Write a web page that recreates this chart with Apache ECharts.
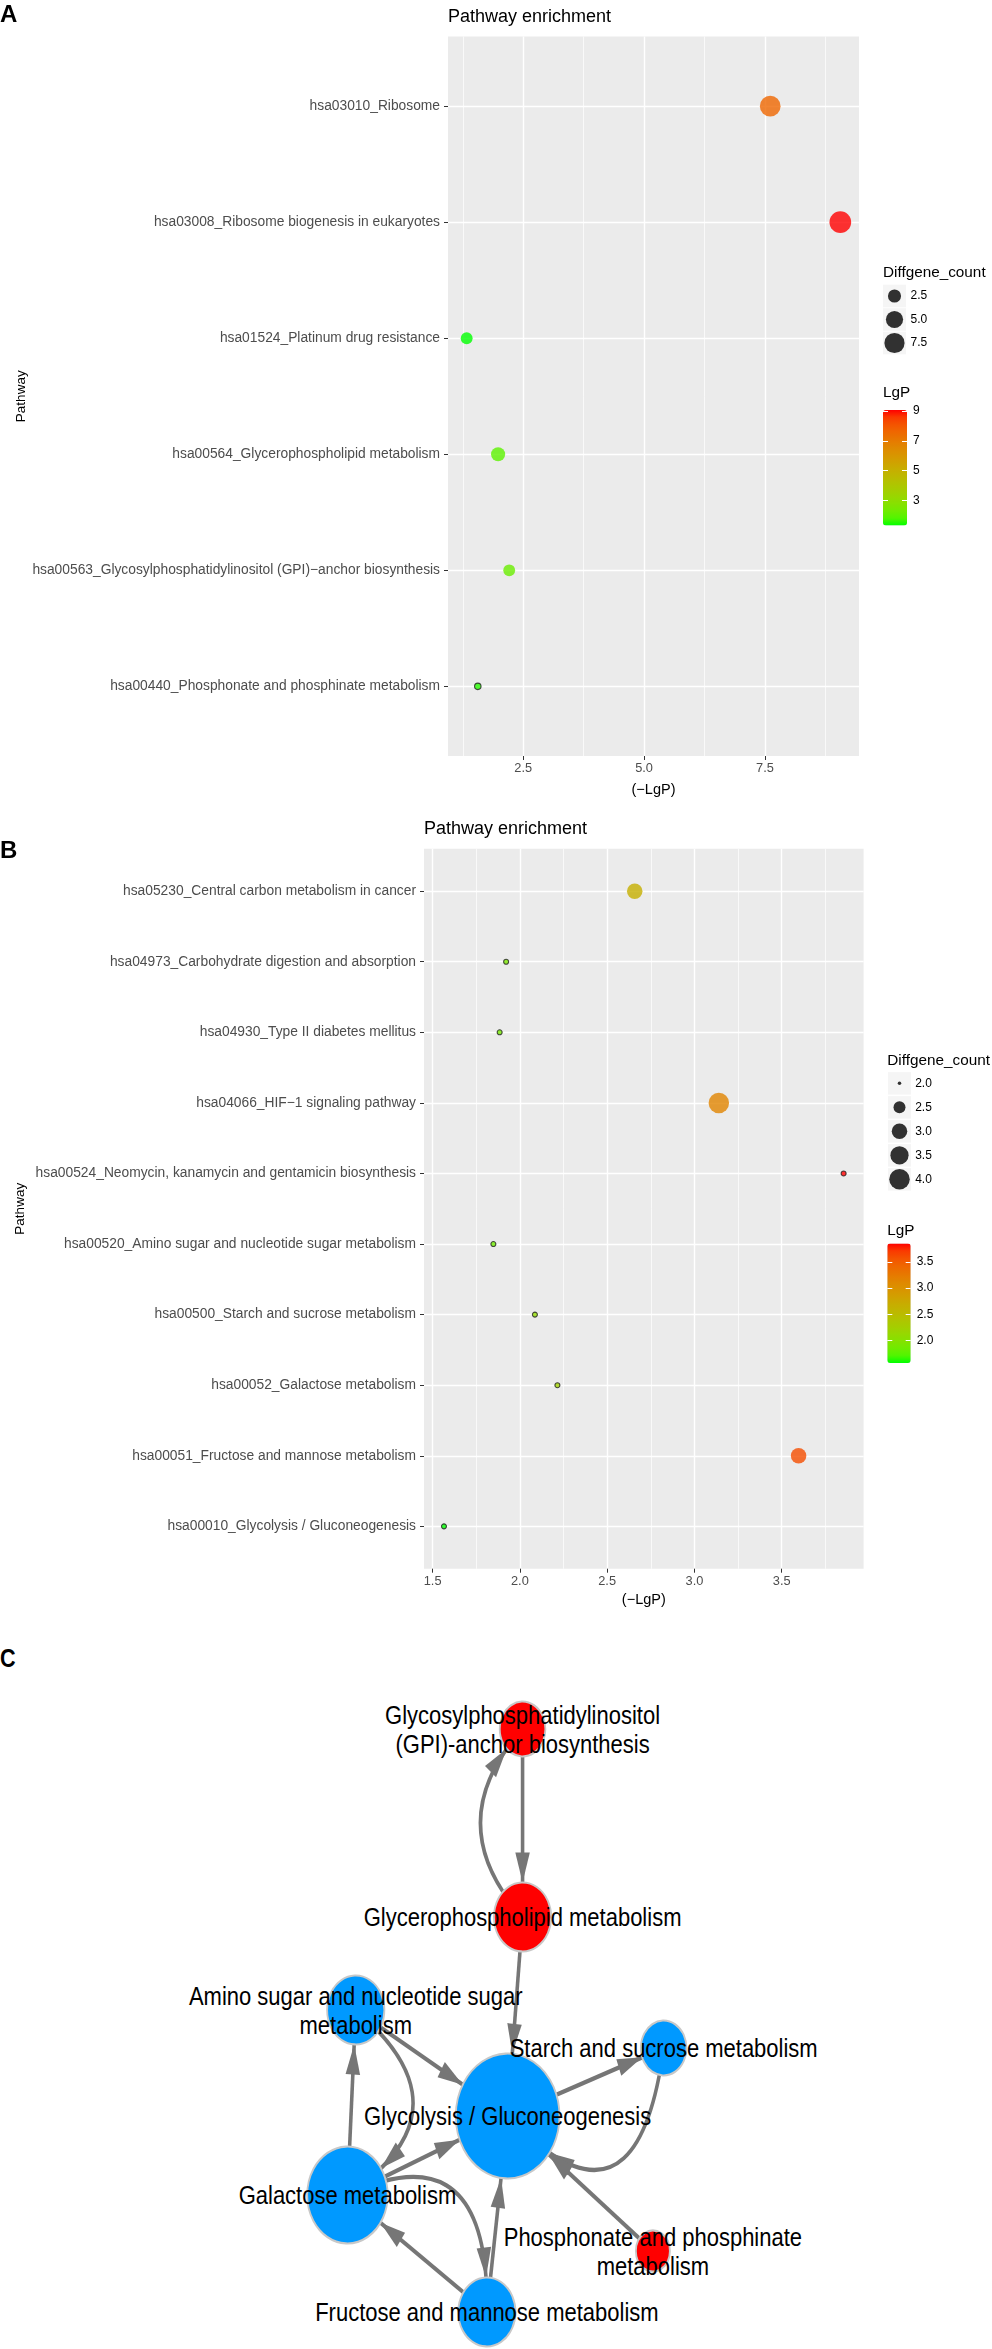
<!DOCTYPE html>
<html>
<head>
<meta charset="utf-8">
<title>Pathway enrichment</title>
<script src="https://cdn.jsdelivr.net/npm/echarts@6/dist/echarts.min.js"></script>
<style>
    html, body { margin: 0; padding: 0; background: #fff; }
    #ab { width: 992px; height: 1640px; }
    /* C 图原图横向被压扁了，这里整体缩一下 */
    #cbox { width: 992px; height: 709px; overflow: hidden; }
    #c { width: 1195px; height: 709px; transform: scaleX(0.83); transform-origin: 0 0; }
</style>
</head>
<body>
<div id="ab"></div>
<div id="cbox"><div id="c"></div></div>
<script>
// ===== A 图数据 =====
var pathwaysA = ['hsa03010_Ribosome', 'hsa03008_Ribosome biogenesis in eukaryotes', 'hsa01524_Platinum drug resistance',
    'hsa00564_Glycerophospholipid metabolism', 'hsa00563_Glycosylphosphatidylinositol (GPI)\u2212anchor biosynthesis',
    'hsa00440_Phosphonate and phosphinate metabolism'];
var lgpA = [7.61, 9.06, 1.33, 1.98, 2.21, 1.56];
var countA = [8, 9, 2, 3, 2, 1];
var xTicksA = [2.5, 5.0, 7.5];
var xMinorA = [1.25, 3.75, 6.25, 8.75];
var sizeBreaksA = [2.5, 5.0, 7.5];
var colorBreaksA = [3, 5, 7, 9];

// ===== B 图数据 =====
var pathwaysB = ['hsa05230_Central carbon metabolism in cancer', 'hsa04973_Carbohydrate digestion and absorption',
    'hsa04930_Type II diabetes mellitus', 'hsa04066_HIF\u22121 signaling pathway',
    'hsa00524_Neomycin, kanamycin and gentamicin biosynthesis', 'hsa00520_Amino sugar and nucleotide sugar metabolism',
    'hsa00500_Starch and sucrose metabolism', 'hsa00052_Galactose metabolism',
    'hsa00051_Fructose and mannose metabolism', 'hsa00010_Glycolysis / Gluconeogenesis'];
var lgpB = [2.658, 1.921, 1.884, 3.14, 3.855, 1.848, 2.086, 2.215, 3.597, 1.565];
var countB = [3, 2, 2, 4, 2, 2, 2, 2, 3, 2];
var xTicksB = [1.5, 2.0, 2.5, 3.0, 3.5];
var xMinorB = [1.75, 2.25, 2.75, 3.25, 3.75];
var sizeBreaksB = [2.0, 2.5, 3.0, 3.5, 4.0];
var colorBreaksB = [2.0, 2.5, 3.0, 3.5];

// ===== C 网络图数据 =====
var nodeNames = ['Glycosylphosphatidylinositol (GPI)-anchor biosynthesis', 'Glycerophospholipid metabolism',
    'Amino sugar and nucleotide sugar metabolism', 'Starch and sucrose metabolism', 'Glycolysis / Gluconeogenesis',
    'Galactose metabolism', 'Phosphonate and phosphinate metabolism', 'Fructose and mannose metabolism'];
var nodeLabels = ['Glycosylphosphatidylinositol\n(GPI)-anchor biosynthesis', 'Glycerophospholipid metabolism',
    'Amino sugar and nucleotide sugar\nmetabolism', 'Starch and sucrose metabolism', 'Glycolysis / Gluconeogenesis',
    'Galactose metabolism', 'Phosphonate and phosphinate\nmetabolism', 'Fructose and mannose metabolism'];
var nodeGroup = ['A', 'A', 'B', 'B', 'B', 'B', 'A', 'B'];
// 布局坐标（网络软件导出的位置）
var nodeX = [211, 211, 10, 381, 193, 0, 368, 168];
var nodeY = [0, 188, 281, 319, 387, 466, 522, 583];
var edgeFrom = [1, 0, 1, 2, 2, 5, 5, 4, 3, 6, 5, 7, 7];
var edgeTo = [0, 1, 4, 4, 5, 2, 4, 3, 4, 4, 7, 5, 4];

var FONT = 'Liberation Sans, Arial, Helvetica, sans-serif';

// ---- 工具函数 ----
function extent(arr) { return [Math.min.apply(null, arr), Math.max.apply(null, arr)]; }
// ggplot 默认两边各扩 5%
function expand(ext) { var r = ext[1] - ext[0]; return [ext[0] - r * 0.05, ext[1] + r * 0.05]; }
// 面积比例的点大小
function sizeScale(cmin, cmax, dmin, dmax) {
    return function (c) { return dmin + (dmax - dmin) * Math.sqrt((c - cmin) / (cmax - cmin)); };
}
function titleAt(text, left, cy, size, bold) {
    return {
        text: text, left: left, top: cy - size / 2, padding: 0,
        textStyle: { fontSize: size, lineHeight: size, fontWeight: bold ? 'bold' : 'normal', color: '#000', fontFamily: FONT }
    };
}

// 绿 -> 红，在 Lab 空间插值（和 ggplot 一样）
function toLin(c) { c = c / 255; return c <= 0.04045 ? c / 12.92 : Math.pow((c + 0.055) / 1.055, 2.4); }
function toSrgb(v) {
    v = Math.min(1, Math.max(0, v));
    v = v <= 0.0031308 ? 12.92 * v : 1.055 * Math.pow(v, 1 / 2.4) - 0.055;
    return Math.round(v * 255);
}
function rgbToLab(rgb) {
    var r = toLin(rgb[0]), g = toLin(rgb[1]), b = toLin(rgb[2]);
    var x = (0.4124 * r + 0.3576 * g + 0.1805 * b) / 0.95047;
    var y = 0.2126 * r + 0.7152 * g + 0.0722 * b;
    var z = (0.0193 * r + 0.1192 * g + 0.9505 * b) / 1.08883;
    var f = function (t) { return t > 0.008856 ? Math.cbrt(t) : 7.787 * t + 16 / 116; };
    return [116 * f(y) - 16, 500 * (f(x) - f(y)), 200 * (f(y) - f(z))];
}
function labToRgb(lab) {
    var fy = (lab[0] + 16) / 116, fx = fy + lab[1] / 500, fz = fy - lab[2] / 200;
    var inv = function (t) { var t3 = t * t * t; return t3 > 0.008856 ? t3 : (t - 16 / 116) / 7.787; };
    var x = 0.95047 * inv(fx), y = inv(fy), z = 1.08883 * inv(fz);
    var r = 3.2406 * x - 1.5372 * y - 0.4986 * z;
    var g = -0.9689 * x + 1.8758 * y + 0.0415 * z;
    var b = 0.0557 * x - 0.2040 * y + 1.0570 * z;
    return 'rgb(' + toSrgb(r) + ',' + toSrgb(g) + ',' + toSrgb(b) + ')';
}
var lowLab = rgbToLab([0, 255, 0]), highLab = rgbToLab([255, 0, 0]);
var gradient = [];
for (var i = 0; i <= 16; i++) {
    var t = i / 16;
    gradient.push(labToRgb([0, 1, 2].map(function (k) { return lowLab[k] + (highLab[k] - lowLab[k]) * t; })));
}

// ---- 坐标轴 ----
function xMain(gi, xr, ticks, nameGap) {
    return {
        type: 'value', gridIndex: gi, min: xr[0], max: xr[1], position: 'bottom',
        axisLine: { show: false, onZero: false },
        axisTick: { show: true, customValues: ticks, length: 4, lineStyle: { color: '#333', width: 1 } },
        axisLabel: { customValues: ticks, formatter: function (v) { return v.toFixed(1); }, color: '#4D4D4D', fontSize: 12.8, margin: 6, fontFamily: FONT },
        splitLine: { show: true, lineStyle: { color: '#fff', width: 1.4 } },
        name: '(\u2212LgP)', nameLocation: 'middle', nameGap: nameGap,
        nameTextStyle: { color: '#000', fontSize: 14.5, fontFamily: FONT }
    };
}
function xMinor(gi, xr, minor) {
    return {
        type: 'value', gridIndex: gi, min: xr[0], max: xr[1], position: 'bottom',
        axisLine: { show: false, onZero: false }, axisLabel: { show: false },
        axisTick: { show: false, customValues: minor },
        splitLine: { show: true, lineStyle: { color: '#fff', width: 0.7 } }
    };
}
function yMain(gi, cats, nameGap) {
    var idx = cats.map(function (c, i) { return i; });
    return {
        type: 'value', gridIndex: gi, inverse: true, min: -0.6, max: cats.length - 0.4, position: 'left',
        axisLine: { show: false, onZero: false },
        axisTick: { show: true, customValues: idx, length: 4, lineStyle: { color: '#333', width: 1 } },
        axisLabel: { customValues: idx, formatter: function (v) { return cats[Math.round(v)]; }, color: '#4D4D4D', fontSize: 13.8, margin: 8, fontFamily: FONT },
        splitLine: { show: true, lineStyle: { color: '#fff', width: 1.4 } },
        name: 'Pathway', nameLocation: 'middle', nameRotate: 90, nameGap: nameGap,
        nameTextStyle: { color: '#000', fontSize: 13.5, fontFamily: FONT }
    };
}
function hiddenX(gi) { return { type: 'value', gridIndex: gi, show: false, min: -1, max: 1, axisLine: { onZero: false } }; }
function keyY(gi, breaks) {
    var idx = breaks.map(function (b, i) { return i; });
    return {
        type: 'value', gridIndex: gi, inverse: true, min: -0.5, max: breaks.length - 0.5, position: 'right',
        axisLine: { show: false, onZero: false }, axisTick: { show: false, customValues: idx }, splitLine: { show: false },
        axisLabel: { customValues: idx, formatter: function (v) { return breaks[Math.round(v)].toFixed(1); }, color: '#000', fontSize: 12, margin: 4.5, fontFamily: FONT }
    };
}
function barY(gi, range, breaks, side, fmt) {
    return {
        type: 'value', gridIndex: gi, min: range[0], max: range[1], position: side, z: 10,
        axisLine: { show: false, onZero: false }, splitLine: { show: false },
        axisTick: { show: true, inside: true, length: 5, customValues: breaks, lineStyle: { color: '#fff', width: 1 } },
        axisLabel: { show: side === 'right', customValues: breaks, formatter: fmt, color: '#000', fontSize: 12, margin: 6, fontFamily: FONT }
    };
}

var extA = extent(lgpA), extB = extent(lgpB);
var xrA = expand(extA), xrB = expand(extB);
var sizeA = sizeScale(Math.min.apply(null, countA), Math.max.apply(null, countA), 6.5, 21.7);
var sizeB = sizeScale(Math.min.apply(null, countB), Math.max.apply(null, countB), 3.5, 20.5);

// 最小计数的点带黑边（ggplot 里细点的描边很显眼）
function scatterData(lgp, count, size) {
    var cmin = Math.min.apply(null, count);
    return lgp.map(function (v, i) {
        var d = { value: [v, i, v, count[i]] };
        if (count[i] === cmin) {
            d.symbolSize = Math.max(size(count[i]), 5);
            d.itemStyle = { borderColor: '#222', borderWidth: 1.1 };
        }
        return d;
    });
}
function keyBg(xi, yi, breaks) {
    return {
        type: 'scatter', xAxisIndex: xi, yAxisIndex: yi, silent: true, symbol: 'rect', symbolSize: [23, 22.5],
        itemStyle: { color: '#F2F2F2' }, data: breaks.map(function (b, i) { return [0, i]; })
    };
}
function keyDots(xi, yi, breaks, size) {
    return {
        type: 'scatter', xAxisIndex: xi, yAxisIndex: yi, silent: true, symbol: 'circle',
        symbolSize: function (val) { return size(val[2]); },
        itemStyle: { color: '#000' }, data: breaks.map(function (b, i) { return [0, i, b]; })
    };
}

var optionAB = {
    animation: false,
    textStyle: { fontFamily: FONT },
    title: [
        titleAt('A', 0, 15.4, 24, true),
        titleAt('Pathway enrichment', 448, 17.5, 18),
        titleAt('Diffgene_count', 883, 272.7, 15.3),
        titleAt('LgP', 883, 393, 15.3),
        titleAt('B', 0, 851, 24, true),
        titleAt('Pathway enrichment', 424, 829, 18),
        titleAt('Diffgene_count', 887.3, 1060.7, 15.3),
        titleAt('LgP', 887.3, 1231, 15.3)
    ],
    grid: [
        { left: 448, top: 36.5, width: 411, height: 719.5, show: true, backgroundColor: '#EBEBEB', borderWidth: 0, outerBoundsMode: 'none' },
        { left: 424, top: 848.8, width: 439.6, height: 719.9, show: true, backgroundColor: '#EBEBEB', borderWidth: 0, outerBoundsMode: 'none' },
        { left: 883, top: 284.25, width: 23, height: 70.5, outerBoundsMode: 'none' },
        { left: 883, top: 410, width: 24, height: 115.6, outerBoundsMode: 'none' },
        { left: 888.3, top: 1071.3, width: 22.4, height: 120, outerBoundsMode: 'none' },
        { left: 887.3, top: 1243.5, width: 23.4, height: 119.5, outerBoundsMode: 'none' }
    ],
    xAxis: [
        xMain(0, xrA, xTicksA, 26), xMinor(0, xrA, xMinorA),
        xMain(1, xrB, xTicksB, 24), xMinor(1, xrB, xMinorB),
        hiddenX(2), hiddenX(3), hiddenX(4), hiddenX(5)
    ],
    yAxis: [
        yMain(0, pathwaysA, 419), yMain(1, pathwaysB, 397),
        keyY(2, sizeBreaksA),
        barY(3, extA, colorBreaksA, 'right', function (v) { return String(v); }),
        barY(3, extA, colorBreaksA, 'left'),
        keyY(4, sizeBreaksB),
        barY(5, extB, colorBreaksB, 'right', function (v) { return v.toFixed(1); }),
        barY(5, extB, colorBreaksB, 'left')
    ],
    visualMap: [
        { type: 'continuous', seriesIndex: 0, dimension: 2, min: extA[0], max: extA[1], inRange: { color: gradient },
          left: 883, top: 410, itemWidth: 24, itemHeight: 115.6, orient: 'vertical', calculable: false, hoverLink: false, padding: 0, text: null, z: 1 },
        { type: 'continuous', seriesIndex: 1, dimension: 2, min: extB[0], max: extB[1], inRange: { color: gradient },
          left: 887.3, top: 1243.5, itemWidth: 23.4, itemHeight: 119.5, orient: 'vertical', calculable: false, hoverLink: false, padding: 0, text: null, z: 1 }
    ],
    series: [
        { type: 'scatter', xAxisIndex: 0, yAxisIndex: 0, silent: true, data: scatterData(lgpA, countA, sizeA),
          symbolSize: function (val) { return sizeA(val[3]); } },
        { type: 'scatter', xAxisIndex: 2, yAxisIndex: 1, silent: true, data: scatterData(lgpB, countB, sizeB),
          symbolSize: function (val) { return sizeB(val[3]); } },
        keyBg(4, 2, sizeBreaksA), keyDots(4, 2, sizeBreaksA, sizeA),
        keyBg(6, 5, sizeBreaksB), keyDots(6, 5, sizeBreaksB, sizeB)
    ]
};
var chartAB = echarts.init(document.getElementById('ab'));
chartAB.setOption(optionAB);

// ===== C 网络图 =====
// 节点大小按连接数
var degree = nodeNames.map(function () { return 0; });
edgeFrom.forEach(function (s, k) { degree[s]++; degree[edgeTo[k]]++; });
// 弯曲的边（互相指向的那几条）
var edgeCurve = [0.54, 0, 0, 0, 0.8, 0, 0, 0, 0.9, 0, 0.75, 0, 0];
// 箭头：尖端在符号中心，这样正好顶在节点边上
var arrowPath = 'path://M-30,-30 M30,30 M0,0 L8.75,30 L-8.75,30 Z';

var optionC = {
    animation: false,
    textStyle: { fontFamily: FONT },
    title: [titleAt('C', 0, 18, 26, true)],
    series: [{
        type: 'graph', layout: 'none', roam: false, silent: true,
        left: 418.6, top: 89, width: 381, height: 583,
        edgeSymbol: ['none', arrowPath], edgeSymbolSize: [0, 60],
        label: { show: true, position: 'inside', color: '#000', fontSize: 26.5, lineHeight: 29.5, fontFamily: FONT },
        lineStyle: { color: '#767676', width: 4.3, opacity: 1 },
        itemStyle: { borderColor: '#C8C8C8', borderWidth: 2.2 },
        data: nodeNames.map(function (n, i) {
            return {
                name: n, x: nodeX[i], y: nodeY[i], symbolSize: 27 + 14 * degree[i],
                itemStyle: { color: nodeGroup[i] === 'A' ? '#FF0000' : '#0099FF' },
                label: { formatter: nodeLabels[i] }
            };
        }),
        links: edgeFrom.map(function (s, k) {
            return { source: nodeNames[s], target: nodeNames[edgeTo[k]], lineStyle: { curveness: edgeCurve[k] } };
        })
    }]
};
var chartC = echarts.init(document.getElementById('c'), null, { renderer: 'svg' });
chartC.setOption(optionC);
</script>
</body>
</html>
